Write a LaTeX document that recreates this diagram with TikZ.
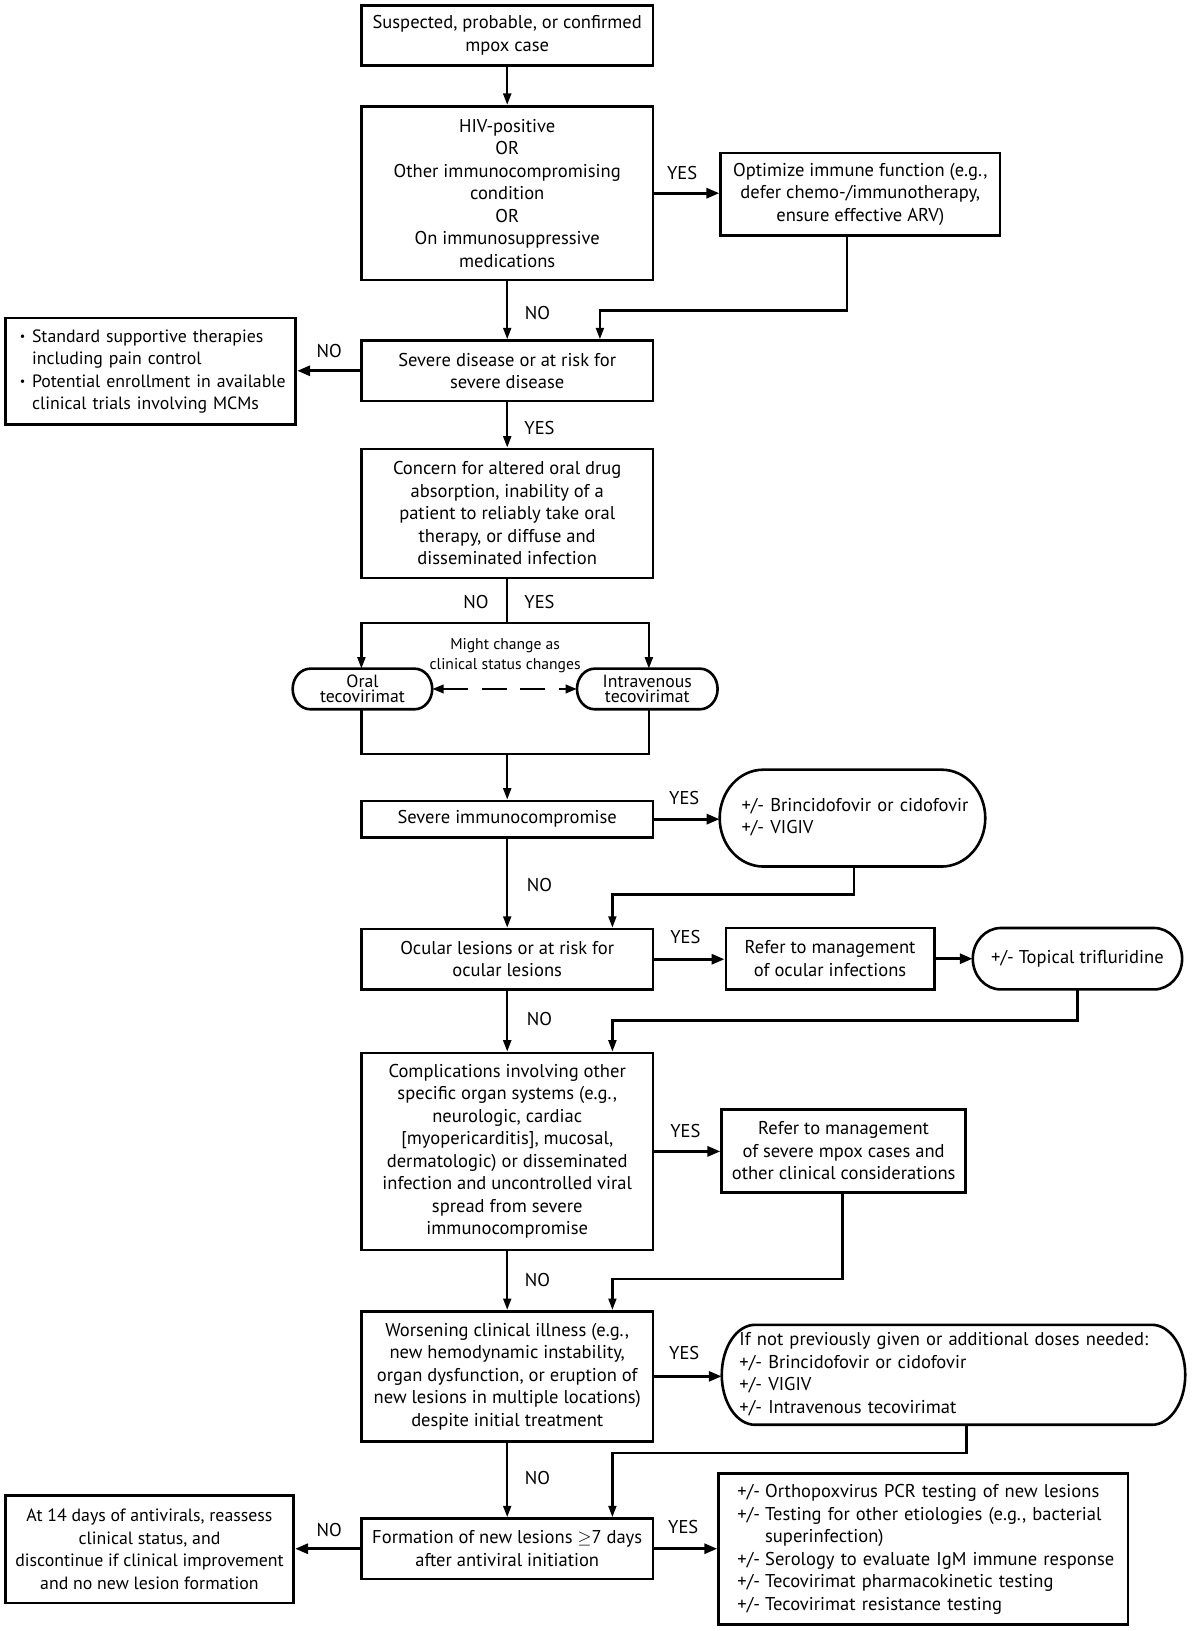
\documentclass[tikz,border=0pt]{standalone}
\usepackage{fontspec}
\setmainfont{PT Sans}
\usepackage{graphicx}
\usetikzlibrary{arrows.meta}
\newcommand{\mycapsule}[3]{%
  \draw[outl] ([xshift=#2pt]#1.north west) -- ([xshift=-#2pt]#1.north east)
    arc[start angle=90,end angle=-90,x radius=#2pt,y radius=#3pt]
    -- ([xshift=#2pt]#1.south west)
    arc[start angle=270,end angle=90,x radius=#2pt,y radius=#3pt] -- cycle;}
\newcommand{\smbul}{\raisebox{0.12ex}{\scalebox{0.68}{\textbullet}}}
\begin{document}
\begin{tikzpicture}[x=1pt,y=1pt,
  every node/.style={inner sep=0pt},
  txt/.style={font=\fontsize{17.8}{21.6}\selectfont},
  smtxt/.style={font=\fontsize{17.1}{21.6}\selectfont},
  rbox/.style 2 args={draw, line width=2.5pt, minimum width=#1pt, minimum height=#2pt, align=center, txt},
  capnode/.style 2 args={minimum width=#1pt, minimum height=#2pt, outer sep=0pt, txt},
  outl/.style={line width=2.5pt},
  conn/.style={line width=2.3pt},
  arr/.style={conn, -{Triangle[length=11pt,width=7.5pt]}},
  harr/.style={line width=3pt, -{Triangle[length=12.5pt,width=9.5pt]}},
  dasharr/.style={line width=2.6pt, dash pattern=on 24pt off 13pt, {Triangle[length=11pt,width=8pt]}-{Triangle[length=11pt,width=8pt]}},
  lbl/.style={txt},
]
\useasboundingbox (0,0) rectangle (1152,-1566);

% ---------- nodes ----------
\node[rbox={280}{58}] (b1) at (487,-34) {Suspected, probable, or confirmed\\mpox case};
\node[rbox={280}{167}] (b2) at (487,-185.5) {HIV-positive\\OR\\Other immunocompromising\\condition\\OR\\On immunosuppressive\\medications};
\node[rbox={268}{79}] (b3) at (826,-186.5) {Optimize immune function (e.g.,\\defer chemo-/immunotherapy,\\ensure effective ARV)};
\node[rbox={280}{58}] (b4) at (487,-356) {Severe disease or at risk for\\severe disease};
\node[rbox={279}{102}, smtxt, align=left, inner xsep=14pt, text width=251pt] (b5) at (144.5,-356.5)
  {\begin{tabular}{@{}l@{\hspace{6.5pt}}l@{}}\smbul & Standard supportive therapies\\ & including pain control\\ \smbul & Potential enrollment in available\\ & clinical trials involving MCMs\end{tabular}};
\node[rbox={280}{124}] (b6) at (487,-493) {Concern for altered oral drug\\absorption, inability of a\\patient to reliably take oral\\therapy, or diffuse and\\disseminated infection};
\node[capnode={134}{39}, align=center, font=\fontsize{17}{15}\selectfont] (oral) at (348,-661.5) {Oral\\tecovirimat};
\node[capnode={135}{39}, align=center, font=\fontsize{17}{15}\selectfont] (iv) at (621.5,-661.5) {Intravenous\\tecovirimat};
\node[align=center, font=\fontsize{15}{19}\selectfont] (mc) at (485,-629.5) {Might change as\\clinical status changes};
\node[rbox={280}{35}] (b7) at (487,-786.5) {Severe immunocompromise};
\node[capnode={255}{93}, align=left, inner xsep=21pt, text width=213pt] (b8) at (818.5,-785.5)
  {\begin{tabular}{@{}l@{}}+/- Brincidofovir or cidofovir\\+/- VIGIV\end{tabular}};
\node[rbox={280}{58}] (b9) at (487,-921) {Ocular lesions or at risk for\\ocular lesions};
\node[rbox={200}{59}] (b10) at (797,-920.5) {Refer to management\\of ocular infections};
\node[capnode={201}{59}, align=center] (b11) at (1034.5,-920.5) {+/- Topical trifluridine};
\node[rbox={280}{189}] (b12) at (487,-1105.5) {Complications involving other\\specific organ systems (e.g.,\\neurologic, cardiac\\{[myopericarditis]}, mucosal,\\dermatologic) or disseminated\\infection and uncontrolled viral\\spread from severe\\immunocompromise};
\node[rbox={234}{80}] (b13) at (810,-1105) {Refer to management\\of severe mpox cases and\\other clinical considerations};
\node[rbox={280}{125}] (b14) at (487,-1321.5) {Worsening clinical illness (e.g.,\\new hemodynamic instability,\\organ dysfunction, or eruption of\\new lesions in multiple locations)\\despite initial treatment};
\node[capnode={445}{96}, align=left, inner xsep=17pt, text width=411pt] (b15) at (915.5,-1320)
  {\begin{tabular}{@{}l@{}}If not previously given or additional doses needed:\\+/- Brincidofovir or cidofovir\\+/- VIGIV\\+/- Intravenous tecovirimat\end{tabular}};
\node[rbox={280}{58}] (b16) at (487,-1487) {Formation of new lesions $\geq$7 days\\after antiviral initiation};
\node[rbox={277}{103}, smtxt] (b17) at (143.5,-1487.5) {At 14 days of antivirals, reassess\\clinical status, and\\discontinue if clinical improvement\\and no new lesion formation};
\node[rbox={393}{145}, align=left, inner xsep=18pt, text width=357pt] (b18) at (886.5,-1487.5)
  {\begin{tabular}{@{}l@{\hspace{0.28em}}l@{}}+/- & Orthopoxvirus PCR testing of new lesions\\ +/- & Testing for other etiologies (e.g., bacterial\\ & superinfection)\\ +/- & Serology to evaluate IgM immune response\\ +/- & Tecovirimat pharmacokinetic testing\\ +/- & Tecovirimat resistance testing\end{tabular}};

% capsule outlines
\mycapsule{oral}{17}{19.5}
\mycapsule{iv}{17}{19.5}
\mycapsule{b8}{42}{46.5}
\mycapsule{b11}{27}{29.5}
\mycapsule{b15}{32}{48}

% ---------- labels ----------
\node[lbl] (l1) at (655,-166) {YES};
\node[lbl] (l2) at (516,-301) {NO};
\node[lbl] (l3) at (316,-337) {NO};
\node[lbl] (l4) at (518,-411) {YES};
\node[lbl] (l5) at (457,-578) {NO};
\node[lbl] (l6) at (518,-578) {YES};
\node[lbl] (l7) at (657,-766) {YES};
\node[lbl] (l8) at (518,-850) {NO};
\node[lbl] (l9) at (658,-900) {YES};
\node[lbl] (l10) at (518,-978) {NO};
\node[lbl] (l11) at (658,-1086) {YES};
\node[lbl] (l12) at (516,-1229) {NO};
\node[lbl] (l13) at (657,-1299) {YES};
\node[lbl] (l14) at (516,-1419) {NO};
\node[lbl] (l15) at (316,-1469) {NO};
\node[lbl] (l16) at (656,-1466) {YES};

% ---------- connectors ----------
\draw[arr] (b1.south) -- (b2.north);
\draw[harr] (b2.east) -- (b2.east -| b3.west);
\draw[arr] ([xshift=-13pt]b3.south) -- ++(0,-71) -| ([xshift=89pt]b4.north);
\draw[arr] (b2.south) -- (b4.north);
\draw[harr] (b4.west) -- (b4.west -| b5.east);
\draw[arr] (b4.south) -- (b6.north);
\coordinate (sp) at (487,-598);
\draw[conn] (b6.south) -- (sp);
\draw[arr] (sp) -| ([xshift=-1pt]oral.north);
\draw[arr] (sp) -| ([xshift=1.5pt]iv.north);
\draw[dasharr] (oral.east) -- (iv.west);
\coordinate (mg) at (487,-724);
\draw[conn] ([xshift=-1pt]oral.south) |- (mg);
\draw[conn] ([xshift=1.5pt]iv.south) |- (mg);
\draw[arr] (mg) -- (b7.north);
\draw[harr] (b7.east) -- (b7.east -| b8.west);
\draw[arr] ([xshift=1.5pt]b8.south) -- ++(0,-27) -| ([xshift=101pt]b9.north);
\draw[arr] (b7.south) -- (b9.north);
\draw[harr] (b9.east) -- (b9.east -| b10.west);
\draw[harr] (b10.east) -- (b10.east -| b11.west);
\draw[arr] (b11.south) -- ++(0,-30) -| ([xshift=101pt]b12.north);
\draw[arr] (b9.south) -- (b12.north);
\draw[harr] (b12.east) -- (b12.east -| b13.west);
\draw[arr] ([xshift=-1pt]b13.south) -- ++(0,-82) -| ([xshift=101pt]b14.north);
\draw[arr] (b12.south) -- (b14.north);
\draw[harr] (b14.east) -- (b14.east -| b15.west);
\draw[arr] ([xshift=12.5pt]b15.south) -- ++(0,-27) -| ([xshift=101pt]b16.north);
\draw[arr] (b14.south) -- (b16.north);
\draw[harr] (b16.west) -- (b16.west -| b17.east);
\draw[harr] (b16.east) -- (b16.east -| b18.west);
\end{tikzpicture}
\end{document}
